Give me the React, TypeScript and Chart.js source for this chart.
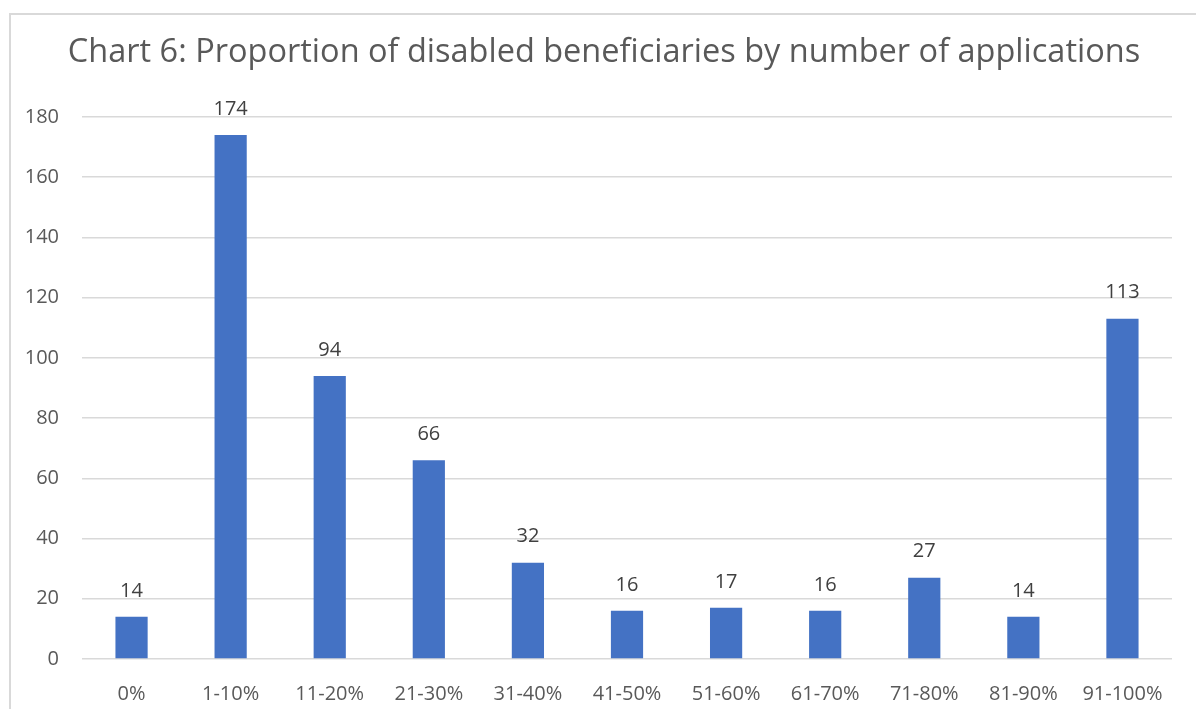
import React, { useEffect, useRef } from "react";
import { Chart, registerables } from "chart.js";

Chart.register(...registerables);

const titleText = "Chart 6: Proportion of disabled beneficiaries by number of applications";
const categories = ["0%", "1-10%", "11-20%", "21-30%", "31-40%", "41-50%", "51-60%", "61-70%", "71-80%", "81-90%", "91-100%"];
const values = [14, 174, 94, 66, 32, 16, 17, 16, 27, 14, 113];
const yMin = 0;
const yMax = 180;
const yStep = 20;

const FONT = "'Open Sans', sans-serif";
const TEXT = "#595959";
const GRID = "#d9d9d9";
const BAR = "#4472c4";

const dataLabels = {
  id: "dataLabels",
  afterDatasetsDraw(chart: any) {
    const ctx = chart.ctx;
    const meta = chart.getDatasetMeta(0);
    ctx.save();
    ctx.font = `20px ${FONT}`;
    ctx.fillStyle = "#404040";
    ctx.textAlign = "center";
    ctx.textBaseline = "middle";
    meta.data.forEach((bar: any, i: number) => {
      ctx.fillText(String(values[i]), bar.x, bar.y - 26);
    });
    ctx.restore();
  },
};

const chartTitle = {
  id: "chartTitle",
  afterDraw(chart: any) {
    const ctx = chart.ctx;
    ctx.save();
    ctx.font = `32.5px ${FONT}`;
    ctx.fillStyle = TEXT;
    ctx.textAlign = "center";
    ctx.textBaseline = "middle";
    ctx.fillText(titleText, 593, 38);
    ctx.restore();
  },
};

export default function App() {
  const ref = useRef<HTMLCanvasElement>(null);
  useEffect(() => {
    document.body.style.overflow = "hidden";
    const chart = new Chart(ref.current!, {
      type: "bar",
      data: {
        labels: categories,
        datasets: [
          {
            data: values,
            backgroundColor: BAR,
            barPercentage: 0.5,
            categoryPercentage: 0.65,
          },
        ],
      },
      options: {
        animation: false,
        responsive: false,
        layout: { padding: { left: 0, right: 26, top: 102, bottom: 0 } },
        plugins: {
          legend: { display: false },
          tooltip: { enabled: false },
          title: { display: false },
        },
        scales: {
          x: {
            grid: { display: false, drawTicks: false },
            border: { display: false },
            ticks: { color: TEXT, font: { family: FONT, size: 20 }, padding: 23, maxRotation: 0, autoSkip: false },
            afterFit: (s: any) => { s.height = 56; },
          },
          y: {
            min: yMin,
            max: yMax,
            grid: { color: GRID, lineWidth: 1.5, drawTicks: false },
            border: { display: false },
            ticks: { stepSize: yStep, color: TEXT, font: { family: FONT, size: 20 }, padding: 23 },
            afterFit: (s: any) => { s.width = 71; },
          },
        },
      },
      plugins: [dataLabels, chartTitle],
    });
    return () => chart.destroy();
  }, []);
  return (
    <div
      style={{
        position: "fixed",
        left: 9,
        top: 13,
        width: 1220,
        height: 740,
        border: `2px solid ${GRID}`,
        background: "#fff",
        boxSizing: "border-box",
      }}
    >
      <canvas ref={ref} width={1187} height={700} style={{ display: "block" }} />
    </div>
  );
}
